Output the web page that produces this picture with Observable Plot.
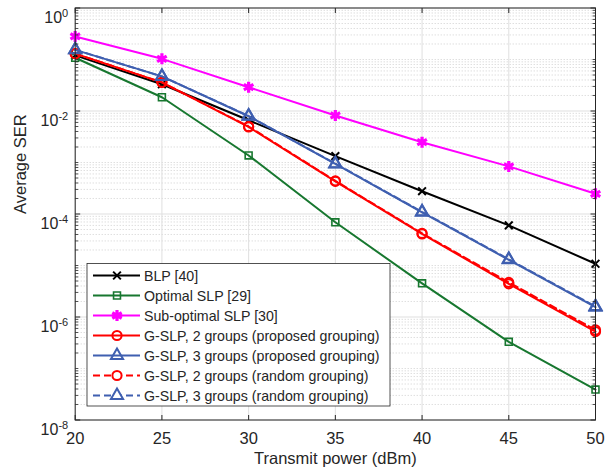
<!DOCTYPE html>
<html><head><meta charset="utf-8">
<script src="https://cdn.jsdelivr.net/npm/d3@7"></script>
<script src="https://cdn.jsdelivr.net/npm/@observablehq/plot@0.6"></script>
<style>body{margin:0;background:#fff}#chart svg{display:block}</style>
</head><body><div id="chart"></div>
<script>
// ---- data ----
const power = [20, 25, 30, 35, 40, 45, 50];
const blp = [0.12, 0.033, 0.0066, 1.33e-3, 2.77e-4, 6.0e-5, 1.08e-5];
const optimalSLP = [0.108, 0.0185, 1.37e-3, 6.9e-5, 4.5e-6, 3.3e-7, 3.9e-8];
const subOptimalSLP = [0.28, 0.103, 0.029, 0.0082, 0.00248, 8.4e-4, 2.47e-4];
const gslp2Proposed = [0.13, 0.036, 0.0049, 4.3e-4, 4.1e-5, 4.4e-6, 5.2e-7];
const gslp3Proposed = [0.154, 0.047, 0.0079, 9.4e-4, 1.08e-4, 1.29e-5, 1.55e-6];
const gslp2Random = [0.13, 0.036, 0.0050, 4.4e-4, 4.2e-5, 4.7e-6, 5.6e-7];
const gslp3Random = [0.154, 0.047, 0.0080, 9.5e-4, 1.1e-4, 1.32e-5, 1.6e-6];
const seriesNames = [
  "BLP [40]", "Optimal SLP [29]", "Sub-optimal SLP [30]",
  "G-SLP, 2 groups (proposed grouping)", "G-SLP, 3 groups (proposed grouping)",
  "G-SLP, 2 groups (random grouping)", "G-SLP, 3 groups (random grouping)"
];
const xTicks = [20, 25, 30, 35, 40, 45, 50];
const yTickExponents = [-8, -6, -4, -2, 0];
const xLabel = "Transmit power (dBm)";
const yLabel = "Average SER";

// ---- derived ----
const yTicks = yTickExponents.map(e => Math.pow(10, e));
const minorY = [];
for (let k = -8; k < 0; k++) for (let m = 1; m <= 9; m++) {
  if (!(m === 1 && yTickExponents.includes(k))) minorY.push(m * Math.pow(10, k));
}

const styles = [
  {values: blp, color: "#000000", symbol: "times", r: 3.6, sw: 2},
  {values: optimalSLP, color: "#17772f", symbol: "square", r: 3.9, sw: 1.6},
  {values: subOptimalSLP, color: "#ff00ff", symbol: "asterisk", r: 5.2, sw: 3.2},
  {values: gslp2Proposed, color: "#ff0000", symbol: "circle", r: 4.6, sw: 2},
  {values: gslp3Proposed, color: "#3f5fb0", symbol: "triangle", r: 4.5, sw: 2},
  {values: gslp2Random, color: "#ff0000", symbol: "circle", r: 4.6, sw: 2, dash: "7,4"},
  {values: gslp3Random, color: "#3f5fb0", symbol: "triangle", r: 4.5, sw: 2, dash: "7,4"}
];
const rowsOf = ys => power.map((p, i) => ({p, v: ys[i]}));

const mk = (len, dir) => ({draw(c) {
  c.moveTo(0, 0);
  if (dir === "up") c.lineTo(0, -len);
  if (dir === "down") c.lineTo(0, len);
  if (dir === "right") c.lineTo(len, 0);
  if (dir === "left") c.lineTo(-len, 0);
}});

const axisColor = "#262626";
const marks = [
  Plot.ruleY(minorY, {stroke: "#c4c4c4", strokeDasharray: "1,2", strokeWidth: 0.8}),
  Plot.ruleY(yTicks, {stroke: "#dfdfdf", strokeWidth: 1}),
  Plot.ruleX(xTicks, {stroke: "#dfdfdf", strokeWidth: 1}),
];
styles.forEach(s => {
  const rows = rowsOf(s.values);
  marks.push(Plot.line(rows, {x: "p", y: "v", stroke: s.color, strokeWidth: 2, strokeDasharray: s.dash}));
  marks.push(Plot.dot(rows, {x: "p", y: "v", symbol: s.symbol, r: s.r, stroke: s.color, strokeWidth: s.sw, fill: "none"}));
});
marks.push(
  Plot.frame({stroke: axisColor, strokeWidth: 1}),
  Plot.dot(xTicks, {x: d => d, y: () => 1e-8, symbol: mk(5, "up"), stroke: axisColor, strokeWidth: 1}),
  Plot.dot(xTicks, {x: d => d, y: () => 1, symbol: mk(5, "down"), stroke: axisColor, strokeWidth: 1}),
  Plot.dot(yTicks, {y: d => d, x: () => 20, symbol: mk(5, "right"), stroke: axisColor, strokeWidth: 1}),
  Plot.dot(yTicks, {y: d => d, x: () => 50, symbol: mk(5, "left"), stroke: axisColor, strokeWidth: 1}),
  Plot.dot(minorY, {y: d => d, x: () => 20, symbol: mk(3, "right"), stroke: axisColor, strokeWidth: 0.8}),
  Plot.dot(minorY, {y: d => d, x: () => 50, symbol: mk(3, "left"), stroke: axisColor, strokeWidth: 0.8}),
  Plot.axisX({ticks: xTicks, tickSize: 0, tickPadding: 12, label: null, fontSize: 16.5, tickFormat: d => String(d)}),
  Plot.axisY({ticks: yTicks, tickSize: 0, tickPadding: 7, label: null, fontSize: 16, tickFormat: d => String(Math.round(Math.log10(d)))}),
  Plot.text([xLabel], {frameAnchor: "bottom", dy: 44, text: d => d, fontSize: 16.5, fill: axisColor}),
  Plot.text([yLabel], {frameAnchor: "left", dx: -54, rotate: -90, text: d => d, fontSize: 16.5, fill: axisColor})
);

const svg = Plot.plot({
  width: 616, height: 476,
  marginLeft: 74.7, marginRight: 21, marginTop: 7.5, marginBottom: 56.5,
  x: {domain: [20, 50]},
  y: {type: "log", domain: [1e-8, 1]},
  style: {fontFamily: "'Liberation Sans', Arial, Helvetica, sans-serif", color: axisColor, background: "#ffffff", overflow: "visible"},
  marks
});

// superscript exponents for log tick labels
d3.select(svg).selectAll('[aria-label="y-axis tick label"] text').each(function () {
  const t = d3.select(this);
  const e = t.text();
  t.text(null).attr("dy", "0.6em");
  t.append("tspan").text("10");
  t.append("tspan").attr("dy", "-0.5em").attr("font-size", "11px").text(e);
});

// legend inside plot
const symMap = {times: d3.symbolTimes, square: d3.symbolSquare, asterisk: d3.symbolAsterisk, circle: d3.symbolCircle, triangle: d3.symbolTriangle};
const lg = d3.select(svg).append("g").attr("class", "legend").attr("text-anchor", "start");
lg.append("rect").attr("x", 87).attr("y", 263.5).attr("width", 303).attr("height", 142.5)
  .attr("fill", "#fff").attr("stroke", axisColor).attr("stroke-width", 0.8);
styles.forEach((s, i) => {
  const y = 275.5 + i * 20;
  lg.append("line").attr("x1", 93).attr("x2", 140).attr("y1", y).attr("y2", y)
    .attr("stroke", s.color).attr("stroke-width", 2).attr("stroke-dasharray", s.dash || null);
  lg.append("path").attr("transform", `translate(117,${y})`)
    .attr("d", d3.symbol(symMap[s.symbol], Math.PI * s.r * s.r)())
    .attr("fill", s.dash ? "#fff" : "none").attr("stroke", s.color).attr("stroke-width", s.sw);
  lg.append("text").attr("x", 144).attr("y", y).attr("dy", "0.36em").attr("text-anchor", "start")
    .attr("font-size", "14.2px").attr("fill", axisColor).text(seriesNames[i]);
});

document.getElementById("chart").appendChild(svg);
</script></body></html>
